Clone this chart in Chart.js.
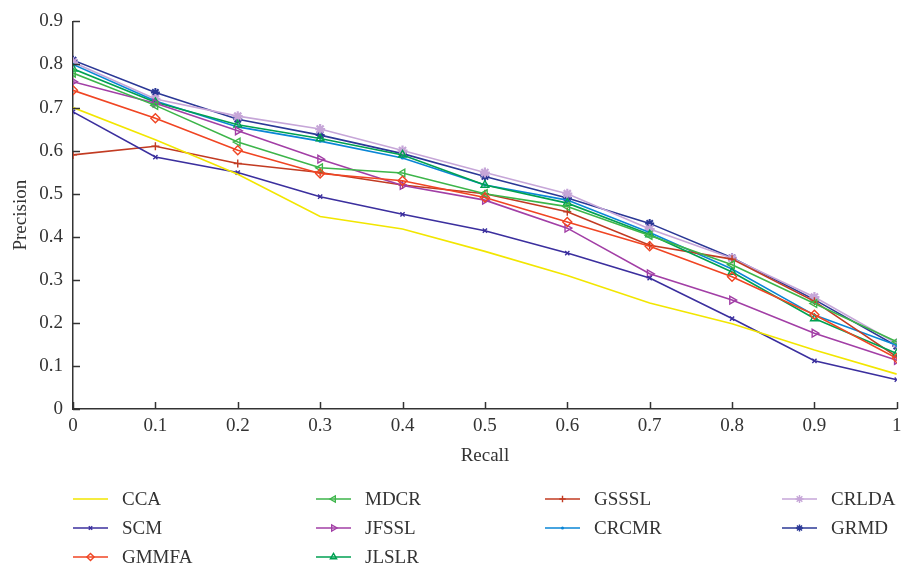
<!DOCTYPE html>
<html>
<head>
<meta charset="utf-8">
<script src="https://cdn.jsdelivr.net/npm/chart.js@4"></script>
<style>
  html, body { margin: 0; padding: 0; background: #fff; }
  #wrap { width: 904px; height: 571px; }
</style>
</head>
<body>
<div id="wrap"><canvas id="c" width="904" height="571"></canvas></div>
<script>
// recall levels (x axis)
const recall = [0, 0.1, 0.2, 0.3, 0.4, 0.5, 0.6, 0.7, 0.8, 0.9, 1];

// precision per method
const cca   = [0.700, 0.625, 0.545, 0.447, 0.418, 0.366, 0.310, 0.246, 0.198, 0.137, 0.081];
const scm   = [0.690, 0.585, 0.549, 0.493, 0.452, 0.414, 0.362, 0.304, 0.210, 0.112, 0.068];
const gmmfa = [0.740, 0.675, 0.601, 0.547, 0.530, 0.491, 0.434, 0.378, 0.307, 0.219, 0.118];
const mdcr  = [0.780, 0.705, 0.620, 0.560, 0.548, 0.500, 0.470, 0.403, 0.335, 0.245, 0.156];
const jfssl = [0.760, 0.710, 0.646, 0.580, 0.519, 0.485, 0.420, 0.314, 0.253, 0.176, 0.113];
const jlslr = [0.790, 0.712, 0.660, 0.628, 0.590, 0.520, 0.478, 0.405, 0.318, 0.210, 0.129];
const gsssl = [0.590, 0.610, 0.570, 0.549, 0.520, 0.500, 0.458, 0.380, 0.348, 0.250, 0.121];
const crcmr = [0.800, 0.715, 0.655, 0.622, 0.583, 0.520, 0.485, 0.410, 0.325, 0.218, 0.148];
const crlda = [0.805, 0.720, 0.680, 0.650, 0.600, 0.549, 0.500, 0.418, 0.350, 0.260, 0.152];
const grmd  = [0.810, 0.735, 0.673, 0.636, 0.593, 0.540, 0.490, 0.431, 0.351, 0.254, 0.146];

const FONT = '"Liberation Serif", "DejaVu Serif", serif';
const INK = "#333";

function series(label, vals, color, style, radius, rotation, bw) {
  return {
    label,
    data: recall.map((x, i) => ({ x, y: vals[i] })),
    borderColor: color,
    backgroundColor: color,
    borderWidth: 1.6,
    pointStyle: style,
    pointRadius: radius,
    pointRotation: rotation || 0,
    pointBorderWidth: bw || 1.4,
    pointBackgroundColor: "transparent",
    pointBorderColor: color,
    tension: 0,
  };
}

const datasets = [
  series("CCA",   cca,   "#f2e600", "circle",    0),
  series("SCM",   scm,   "#3b2f9e", "crossRot",  3),
  series("GMMFA", gmmfa, "#f04523", "rectRot",   4.5),
  series("MDCR",  mdcr,  "#3db54a", "triangle",  4.5, -90),
  series("JFSSL", jfssl, "#a23fa6", "triangle",  4.5, 90),
  series("JLSLR", jlslr, "#00a152", "triangle",  4.5),
  series("GSSSL", gsssl, "#c23b22", "cross",     4),
  series("CRCMR", crcmr, "#0a86d6", "circle",    1),
  series("CRLDA", crlda, "#c6a6d8", "star",      5, 0, 2.2),
  series("GRMD",  grmd,  "#2b3896", "star",      4.5, 0, 2),
];

// inward tick marks like the original plot
const innerTicks = {
  id: "innerTicks",
  afterDraw(chart) {
    const { ctx, chartArea, scales } = chart;
    ctx.save();
    ctx.strokeStyle = INK;
    ctx.lineWidth = 1.5;
    scales.y.ticks.forEach((t) => {
      const y = Math.round(scales.y.getPixelForValue(t.value)) + 0.5;
      ctx.beginPath();
      ctx.moveTo(chartArea.left, y);
      ctx.lineTo(chartArea.left + 7, y);
      ctx.stroke();
    });
    scales.x.ticks.forEach((t) => {
      const x = Math.round(scales.x.getPixelForValue(t.value)) + 0.5;
      ctx.beginPath();
      ctx.moveTo(x, chartArea.bottom);
      ctx.lineTo(x, chartArea.bottom - 7);
      ctx.stroke();
    });
    ctx.restore();
  },
};

// legend slots (column, row) per dataset, 4 columns filled top-down
const legendSlots = [[0, 0], [0, 1], [0, 2], [1, 0], [1, 1], [1, 2], [2, 0], [2, 1], [3, 0], [3, 1]];
const legendCols = [73, 316, 545, 782];
const legendRows = [499, 528, 557];
const legendPlugin = {
  id: "gridLegend",
  afterDraw(chart) {
    const { ctx } = chart;
    const helpers = window.Chart && window.Chart.helpers;
    ctx.save();
    ctx.font = "19px " + FONT;
    ctx.textBaseline = "middle";
    chart.data.datasets.forEach((ds, i) => {
      const [col, row] = legendSlots[i];
      const x0 = legendCols[col];
      const y = legendRows[row];
      ctx.strokeStyle = ds.borderColor;
      ctx.lineWidth = 1.6;
      ctx.beginPath();
      ctx.moveTo(x0, y);
      ctx.lineTo(x0 + 35, y);
      ctx.stroke();
      if (ds.pointRadius > 0 && helpers && helpers.drawPoint) {
        ctx.lineWidth = ds.pointStyle === "star" ? 1.4 : ds.pointBorderWidth;
        ctx.fillStyle = "rgba(0,0,0,0)";
        helpers.drawPoint(ctx, {
          pointStyle: ds.pointStyle,
          radius: ds.pointRadius * 0.8,
          rotation: ds.pointRotation,
          borderWidth: ctx.lineWidth,
        }, x0 + 17.5, y);
      }
      ctx.fillStyle = INK;
      ctx.fillText(ds.label, x0 + 49, y + 1);
    });
    ctx.restore();
  },
};

const tickLabel = (v) => String(Number(Number(v).toFixed(1)));

new Chart(document.getElementById("c"), {
  type: "line",
  data: { datasets },
  options: {
    responsive: false,
    animation: false,
    layout: { padding: { top: 20, right: 4, bottom: 100, left: 6 } },
    plugins: { legend: { display: false }, tooltip: { enabled: false } },
    scales: {
      x: {
        type: "linear",
        min: 0,
        max: 1,
        ticks: { stepSize: 0.1, color: INK, font: { family: FONT, size: 19 }, padding: 6, maxRotation: 0, callback: tickLabel },
        grid: { display: false, drawTicks: false },
        border: { display: true, color: INK, width: 1.5 },
        title: { display: true, text: "Recall", color: INK, font: { family: FONT, size: 19 }, padding: { top: 1 } },
        afterFit(scale) {
          scale.height = 62;
          scale.paddingLeft = 0;
          scale.paddingRight = 0;
        },
      },
      y: {
        min: 0,
        max: 0.9,
        ticks: { stepSize: 0.1, color: INK, font: { family: FONT, size: 19 }, padding: 10, callback: tickLabel },
        grid: { display: false, drawTicks: false },
        border: { display: true, color: INK, width: 1.5 },
        title: { display: true, text: "Precision", color: INK, font: { family: FONT, size: 19 }, padding: { bottom: 2 } },
        afterFit(scale) { scale.width = 67; },
      },
    },
  },
  plugins: [innerTicks, legendPlugin],
});
</script>
</body>
</html>
